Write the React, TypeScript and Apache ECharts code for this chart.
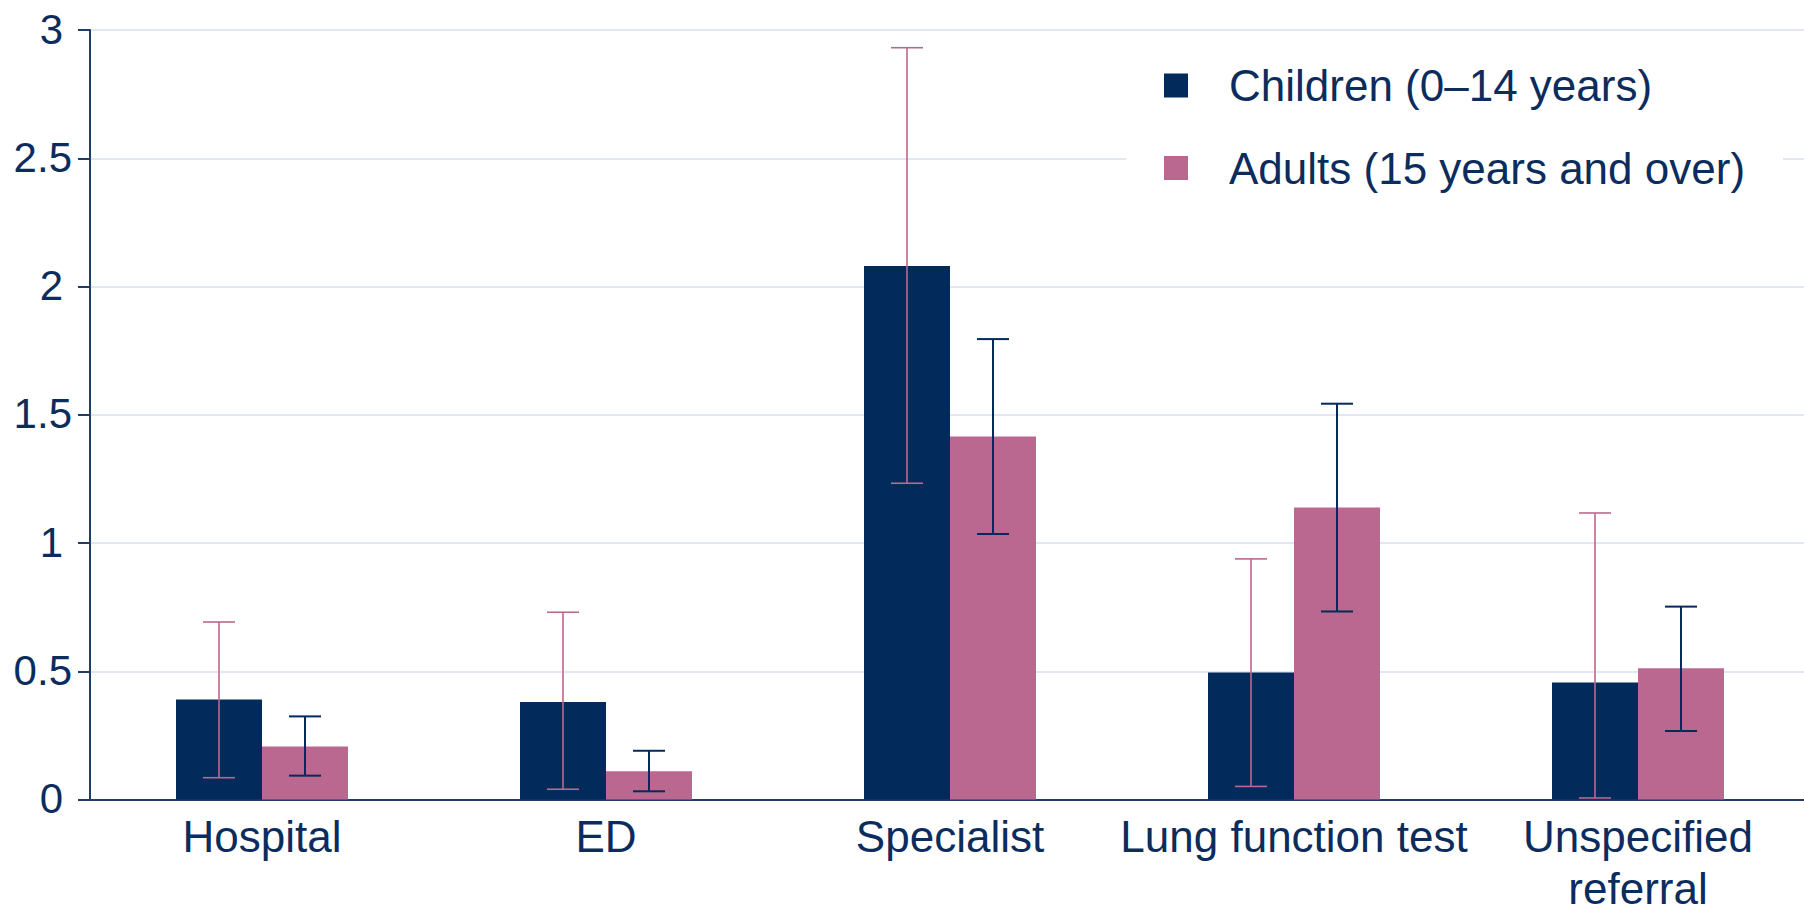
import React, { useEffect, useRef } from "react";
import * as echarts from "echarts";

const categories = ["Hospital", "ED", "Specialist", "Lung function test", "Unspecified\nreferral"];
const seriesNames = ["Children (0–14 years)", "Adults (15 years and over)"];
const childrenValues = [0.39, 0.38, 2.08, 0.495, 0.456];
const adultValues = [0.207, 0.11, 1.415, 1.138, 0.512];
const childrenLow = [0.085, 0.04, 1.233, 0.051, 0.006];
const childrenHigh = [0.692, 0.73, 2.931, 0.938, 1.117];
const adultLow = [0.093, 0.032, 1.035, 0.733, 0.267];
const adultHigh = [0.324, 0.19, 1.795, 1.543, 0.752];
const yTicks = { min: 0, max: 3, interval: 0.5 };

const NAVY = "#022A5B";
const PINK = "#BA688F";
const TEXT = "#0B2C5C";
const FONT = "'Liberation Sans', Arial, sans-serif";

function errorSeries(name: string, low: number[], high: number[], offsetRatio: number, color: string, width: number) {
  return {
    type: "custom",
    name,
    z: 5,
    data: low.map((l, i) => [i, l, high[i]]),
    encode: { x: 0, y: [1, 2] },
    renderItem: (params: any, api: any) => {
      const cat = api.value(0);
      const lo = api.value(1);
      const hi = api.value(2);
      const band = api.size([1, 0])[0];
      const pHi = api.coord([cat, hi]);
      const pLo = api.coord([cat, lo]);
      const x = pHi[0] + band * offsetRatio;
      const half = 16;
      const style = { stroke: color, lineWidth: width };
      return {
        type: "group",
        children: [
          { type: "line", shape: { x1: x, y1: pHi[1], x2: x, y2: pLo[1] }, style },
          { type: "line", shape: { x1: x - half, y1: pHi[1], x2: x + half, y2: pHi[1] }, style },
          { type: "line", shape: { x1: x - half, y1: pLo[1], x2: x + half, y2: pLo[1] }, style },
        ],
      };
    },
  };
}

export default function App() {
  const ref = useRef<HTMLDivElement>(null);
  useEffect(() => {
    if (!ref.current) return;
    const chart = echarts.init(ref.current, null, { renderer: "svg" });
    chart.setOption({
      animation: false,
      backgroundColor: "#ffffff",
      textStyle: { fontFamily: FONT },
      grid: { left: 90, right: -6, top: 30, bottom: 108.5, containLabel: false, outerBoundsMode: "none" },
      legend: {
        data: seriesNames,
        orient: "vertical",
        left: 1126,
        top: 32,
        padding: [31.5, 38, 40, 38],
        backgroundColor: "#ffffff",
        icon: "rect",
        itemWidth: 24,
        itemHeight: 24,
        itemGap: 38.5,
        textStyle: { color: TEXT, fontSize: 44, fontFamily: FONT, padding: [0, 0, 0, 36] },
      },
      xAxis: {
        type: "category",
        data: categories,
        axisLine: { lineStyle: { color: "#1F3D6B", width: 2 } },
        axisTick: { show: false },
        axisLabel: { color: TEXT, fontSize: 44, fontFamily: FONT, margin: 11, lineHeight: 52, interval: 0 },
      },
      yAxis: {
        type: "value",
        min: yTicks.min,
        max: yTicks.max,
        interval: yTicks.interval,
        axisLine: { show: true, lineStyle: { color: "#1F3D6B", width: 2 } },
        axisTick: { show: true, length: 12, lineStyle: { color: "#1F3D6B", width: 2 } },
        axisLabel: {
          color: TEXT,
          fontSize: 42,
          fontFamily: FONT,
          margin: 18,
          formatter: (v: number) => (Number.isInteger(v) ? `{i|${v}}` : `{d|${v}}`),
          rich: {
            i: { color: TEXT, fontSize: 42, fontFamily: FONT, padding: [0, 9, 2, 0] },
            d: { color: TEXT, fontSize: 42, fontFamily: FONT, padding: [0, 0, 2, 0] },
          },
        },
        splitLine: { lineStyle: { color: "#DADFEE", width: 1.5 } },
      },
      series: [
        {
          type: "bar",
          name: seriesNames[0],
          data: childrenValues,
          barWidth: 86,
          barGap: "0%",
          itemStyle: { color: NAVY },
        },
        {
          type: "bar",
          name: seriesNames[1],
          data: adultValues,
          barWidth: 86,
          barGap: "0%",
          itemStyle: { color: PINK },
        },
        errorSeries("Children CI", childrenLow, childrenHigh, -0.125, PINK, 1.6),
        errorSeries("Adults CI", adultLow, adultHigh, 0.125, NAVY, 2),
      ],
    });
    return () => chart.dispose();
  }, []);
  return <div ref={ref} style={{ position: "fixed", left: 0, top: 0, width: 1804, height: 908 }} />;
}
